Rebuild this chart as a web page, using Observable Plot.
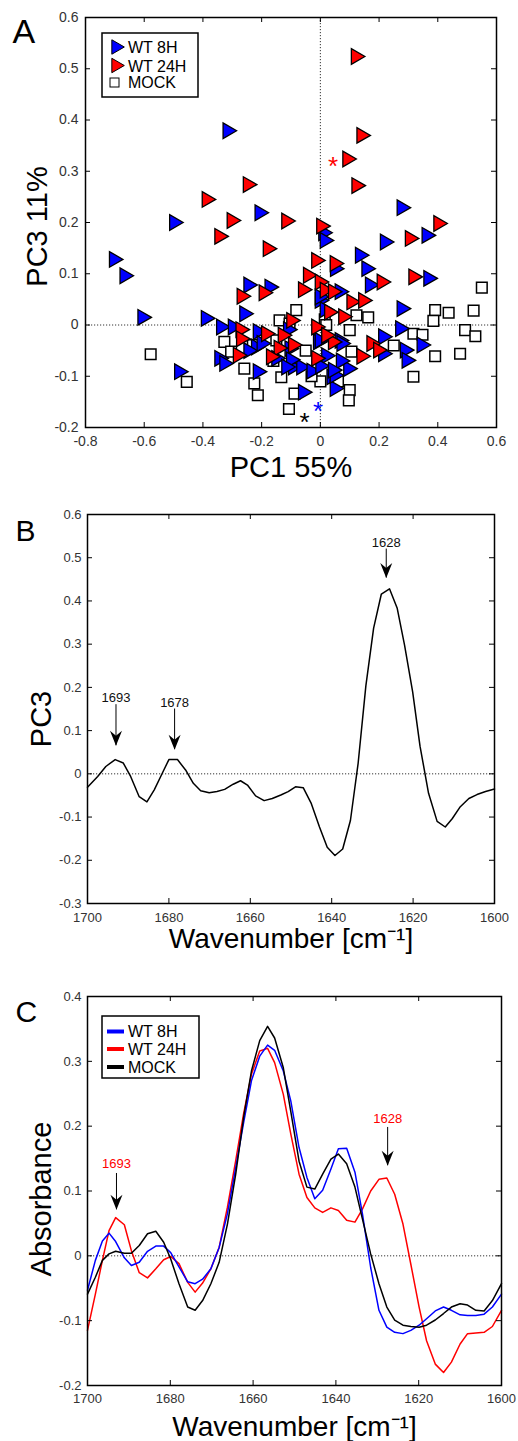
<!DOCTYPE html>
<html><head><meta charset="utf-8">
<script src="https://cdn.jsdelivr.net/npm/d3@7"></script>
<script src="https://cdn.jsdelivr.net/npm/@observablehq/plot@0.6"></script>
<style>
html,body{margin:0;padding:0;background:#fff;}
#root{width:518px;}
#root svg{display:block;}
</style></head><body><div id="root"></div>
<script>
// ---------------- Panel A data (PC1 vs PC3 scores) ----------------
const wt8hX = [-0.316,-0.207,-0.498,0.010,0.015,0.277,-0.703,-0.667,0.050,-0.245,-0.173,-0.002,-0.259,-0.606,-0.390,0.015,-0.338,-0.298,-0.213,-0.110,-0.008,-0.344,-0.327,-0.219,-0.150,-0.093,-0.065,-0.213,-0.481,-0.059,-0.105,0.038,0.049,0.362,0.220,0.135,0.157,0.169,0.368,0.066,-0.002,0.277,0.272,0.214,0.345,0.288,0.294,0.095,0.049,0.066,0.214,-0.002,0.020,0.070,-0.030,0.000,-0.200,-0.245,0.072,-0.100,-0.116,0.043];
const wt8hY = [0.379,0.219,0.200,0.180,0.165,0.229,0.128,0.096,0.110,0.078,0.074,0.048,0.022,0.015,0.013,0.030,-0.004,-0.004,-0.013,-0.009,-0.033,-0.065,-0.075,-0.043,-0.065,-0.082,-0.082,-0.091,-0.091,-0.131,-0.046,-0.101,-0.124,0.175,0.162,0.136,0.110,0.078,0.091,0.065,0.055,0.032,-0.007,-0.023,-0.039,-0.049,-0.069,-0.085,-0.098,-0.030,-0.056,-0.030,-0.060,-0.070,-0.090,-0.080,-0.036,-0.050,-0.036,-0.068,-0.082,-0.088];
const wt24hX = [-0.387,-0.247,-0.302,-0.116,0.003,0.121,0.140,0.092,0.123,0.402,-0.344,-0.179,-0.014,0.049,-0.042,-0.002,-0.268,-0.193,-0.059,0.015,0.043,0.305,0.317,0.209,0.106,0.146,0.078,-0.099,-0.272,-0.270,-0.185,-0.128,-0.014,-0.281,-0.142,-0.093,-0.168,-0.014,0.043,0.174,0.197,0.140,0.020,0.030];
const wt24hY = [0.245,0.274,0.204,0.203,0.193,0.524,0.370,0.324,0.272,0.198,0.173,0.149,0.126,0.120,0.097,0.084,0.056,0.063,0.069,0.068,0.065,0.169,0.094,0.084,0.045,0.048,0.016,0.009,-0.009,-0.027,-0.017,-0.020,-0.004,-0.059,-0.045,-0.039,-0.062,-0.065,-0.033,-0.036,-0.049,-0.061,-0.020,0.025];
const mockX = [-0.578,-0.455,-0.327,-0.230,-0.259,-0.225,-0.213,-0.133,-0.088,-0.107,-0.082,-0.139,0.015,-0.304,0.550,0.391,0.437,0.522,0.123,0.163,0.385,0.493,0.528,0.317,0.348,0.391,0.476,0.317,0.100,0.097,0.100,0.106,0.000,0.060,-0.050,0.020,-0.160,0.250,-0.030,-0.150,-0.105];
const mockY = [-0.057,-0.111,-0.033,-0.039,-0.085,-0.114,-0.137,-0.102,-0.134,-0.164,0.029,0.009,0.011,-0.052,0.073,0.029,0.024,0.028,0.019,0.015,0.008,-0.010,-0.022,-0.017,-0.019,-0.061,-0.056,-0.101,-0.127,-0.147,-0.010,-0.052,-0.110,-0.110,-0.050,0.000,-0.070,-0.040,-0.100,-0.030,0.003];
const starX = [0.043,-0.008,-0.054];
const starY = [0.323,-0.155,-0.176];
const starColor = ["#ff0000","#0000ff","#000000"];
const aXTicks = [-0.8,-0.6,-0.4,-0.2,0,0.2,0.4,0.6];
const aYTicks = [-0.2,-0.1,0,0.1,0.2,0.3,0.4,0.5,0.6];

// ---------------- Panel B data (PC3 loadings) ----------------
const waveB = [1700,1697.5,1695.5,1693.2,1691.2,1689.4,1687.3,1685.4,1683.6,1681.6,1680,1677.9,1675.9,1674,1672.2,1670.1,1668.2,1666.3,1664.2,1662.4,1660.7,1658.7,1656.6,1654.6,1652.5,1650.7,1648.9,1647,1645,1643,1641.1,1639.2,1637.3,1635.4,1633.5,1631.6,1629.7,1627.8,1625.8,1623.9,1622.1,1620.1,1618.3,1616.2,1614.1,1612.1,1610.4,1608.4,1606.3,1604.3,1602.2,1600];
const pc3 = [-0.031,-0.006,0.017,0.033,0.025,-0.006,-0.053,-0.065,-0.037,0.002,0.033,0.033,0.009,-0.022,-0.039,-0.044,-0.041,-0.036,-0.024,-0.016,-0.026,-0.051,-0.062,-0.057,-0.049,-0.041,-0.030,-0.032,-0.069,-0.123,-0.170,-0.189,-0.174,-0.108,0.025,0.204,0.337,0.416,0.428,0.383,0.298,0.189,0.064,-0.045,-0.110,-0.123,-0.104,-0.076,-0.057,-0.048,-0.041,-0.035];
const bLabels = ["1693","1678","1628"];
const bLabelX = [1693,1678.6,1626.6];
const bLabelY = [0.175,0.165,0.535];
const bArrowTop = [0.160,0.150,0.520];
const bArrowTip = [0.065,0.056,0.453];
const bXTicks = [1700,1680,1660,1640,1620,1600];
const bYTicks = [-0.3,-0.2,-0.1,0,0.1,0.2,0.3,0.4,0.5,0.6];

// ---------------- Panel C data (mean spectra) ----------------
const waveC = [1700,1698.1,1696.4,1694.8,1693.2,1691.1,1689.4,1687.5,1685.5,1683.5,1681.6,1679.9,1677.9,1675.8,1674,1672.2,1670.2,1668.2,1666.2,1664.2,1662.3,1660.4,1658.4,1656.5,1654.8,1652.7,1650.9,1648.9,1647,1645.1,1643.2,1641.2,1639.4,1637.4,1635.4,1633.6,1631.6,1629.6,1627.7,1625.8,1623.8,1621.9,1619.9,1618.1,1616,1614,1612.1,1610,1608.2,1606.2,1604.2,1602.2,1600];
const absWT8H = [-0.053,-0.007,0.023,0.035,0.022,-0.003,-0.015,-0.010,0.007,0.015,0.015,0.005,-0.017,-0.040,-0.043,-0.036,-0.020,0.013,0.065,0.136,0.205,0.270,0.308,0.325,0.317,0.285,0.239,0.167,0.121,0.088,0.101,0.134,0.165,0.166,0.129,0.065,-0.018,-0.084,-0.110,-0.118,-0.120,-0.115,-0.107,-0.097,-0.085,-0.079,-0.084,-0.091,-0.092,-0.092,-0.090,-0.079,-0.059];
const absWT24H = [-0.115,-0.059,-0.007,0.039,0.059,0.048,0.008,-0.026,-0.034,-0.020,-0.006,-0.001,-0.012,-0.041,-0.056,-0.042,-0.020,0.013,0.075,0.147,0.219,0.280,0.316,0.320,0.298,0.249,0.188,0.126,0.090,0.074,0.067,0.074,0.070,0.055,0.052,0.072,0.100,0.118,0.120,0.095,0.049,-0.013,-0.079,-0.131,-0.167,-0.180,-0.164,-0.136,-0.120,-0.119,-0.118,-0.109,-0.084];
const absMOCK = [-0.059,-0.033,-0.007,0.003,0.007,0.004,0.004,0.016,0.034,0.038,0.021,-0.005,-0.043,-0.079,-0.084,-0.069,-0.043,-0.010,0.049,0.126,0.213,0.285,0.332,0.354,0.336,0.290,0.223,0.146,0.106,0.103,0.126,0.149,0.157,0.142,0.106,0.057,0.003,-0.043,-0.079,-0.099,-0.107,-0.109,-0.110,-0.107,-0.099,-0.089,-0.079,-0.074,-0.076,-0.084,-0.085,-0.069,-0.043];
const cLabels = ["1693","1628"];
const cLabelX = [1693,1627.5];
const cLabelY = [0.142,0.212];
const cArrowTop = [0.127,0.198];
const cArrowTip = [0.071,0.139];
const cXTicks = [1700,1680,1660,1640,1620,1600];
const cYTicks = [-0.2,-0.1,0,0.1,0.2,0.3,0.4];

const seriesNames = ["WT 8H","WT 24H","MOCK"];
const seriesColors = ["#0000ff","#ff0000","#000000"];

// ---------------- helpers ----------------
const FONT = "'Liberation Sans', Arial, Helvetica, sans-serif";
const W = 518;
const root = document.getElementById("root");
const fmt = d => String(d);

function boxMarks(xt, yt, innerW, innerH, xpad, ypad, fs) {
  const L = 5;
  return [
    Plot.ruleX(xt, {x: d => d, insetTop: innerH - L, stroke: "black", strokeWidth: 1}),
    Plot.ruleX(xt, {x: d => d, insetBottom: innerH - L, stroke: "black", strokeWidth: 1}),
    Plot.ruleY(yt, {y: d => d, insetRight: innerW - L, stroke: "black", strokeWidth: 1}),
    Plot.ruleY(yt, {y: d => d, insetLeft: innerW - L, stroke: "black", strokeWidth: 1}),
    Plot.axisX({ticks: xt, tickSize: 0, tickPadding: xpad, tickFormat: fmt, fontSize: fs, label: null, fill: "#333"}),
    Plot.axisY({ticks: yt, tickSize: 0, tickPadding: ypad, tickFormat: fmt, fontSize: fs, label: null, fill: "#333"}),
    Plot.frame({stroke: "black", strokeWidth: 1.5})
  ];
}

const dart = {
  draw(context) {
    context.moveTo(0, 0);
    context.lineTo(-6, -15);
    context.lineTo(0, -10);
    context.lineTo(6, -15);
    context.closePath();
  }
};

function annotations(labels, lx, ly, top, tip, color) {
  const rows = labels.map((t, i) => ({t, x: lx[i], ly: ly[i], top: top[i], tip: tip[i]}));
  return [
    Plot.ruleX(rows, {x: "x", y1: "top", y2: "tip", stroke: "black", strokeWidth: 1}),
    Plot.dot(rows, {x: "x", y: "tip", symbol: dart, r: 5, fill: "black", stroke: "none"}),
    Plot.text(rows, {x: "x", y: "ly", text: "t", fontSize: 13, fill: color, fontFamily: FONT})
  ];
}

// ---------------- Panel A ----------------
{
  const H = 484, mt = 17, mb = 57, ml = 85, mr = 22;
  const iw = W - ml - mr, ih = H - mt - mb;
  const toRows = (xs, ys) => xs.map((x, i) => ({x, y: ys[i]}));
  const blue = toRows(wt8hX, wt8hY), red = toRows(wt24hX, wt24hY), mock = toRows(mockX, mockY);
  const stars = starX.map((x, i) => ({x, y: starY[i], c: starColor[i]}));
  const svg = Plot.plot({
    width: W, height: H, marginTop: mt, marginBottom: mb, marginLeft: ml, marginRight: mr,
    style: {fontFamily: FONT, background: "white"},
    x: {domain: [-0.8, 0.6]},
    y: {domain: [-0.2, 0.6]},
    marks: [
      Plot.ruleY([0], {stroke: "black", strokeWidth: 0.8, strokeDasharray: "1.2,1.8"}),
      Plot.ruleX([0], {stroke: "black", strokeWidth: 0.8, strokeDasharray: "1.2,1.8"}),
      Plot.dot(mock, {x: "x", y: "y", symbol: "square", r: 6, fill: "white", stroke: "black", strokeWidth: 1.5}),
      Plot.dot(blue, {x: "x", y: "y", symbol: "triangle", rotate: 90, r: 5.8, fill: "#0000ff", stroke: "black", strokeWidth: 1.3}),
      Plot.dot(red, {x: "x", y: "y", symbol: "triangle", rotate: 90, r: 5.8, fill: "#ff0000", stroke: "black", strokeWidth: 1.3}),
      Plot.text(stars, {x: "x", y: "y", text: () => "*", fill: "c", fontSize: 26, dy: 7, fontFamily: FONT}),
      ...boxMarks(aXTicks, aYTicks, iw, ih, 9, 7, 14),
      Plot.text(["A"], {text: d => d, frameAnchor: "top-left", dx: 12 - ml, dy: 42 - mt, textAnchor: "start", lineAnchor: "bottom", fontSize: 34, fill: "black", fontFamily: FONT}),
      Plot.text(["PC1 55%"], {text: d => d, frameAnchor: "bottom", dy: 476 - (H - mb), lineAnchor: "bottom", fontSize: 29, fill: "black", fontFamily: FONT}),
      Plot.text(["PC3 11%"], {text: d => d, frameAnchor: "left", dx: 46 - ml, dy: 4, rotate: -90, textAnchor: "middle", lineAnchor: "bottom", fontSize: 29, fill: "black", fontFamily: FONT})
    ]
  });
  // legend
  const g = d3.select(svg).append("g").attr("font-family", FONT).attr("text-anchor", "start");
  g.append("rect").attr("x", 102).attr("y", 33).attr("width", 96).attr("height", 64)
    .attr("fill", "white").attr("stroke", "black").attr("stroke-width", 1.5);
  const ly = [47, 65.5, 82.5], tb = [53, 71.5, 88];
  [0, 1].forEach(i => {
    g.append("path").attr("d", d3.symbol(d3.symbolTriangle, 90)())
      .attr("transform", `translate(116,${ly[i]}) rotate(90)`)
      .attr("fill", seriesColors[i]).attr("stroke", "black").attr("stroke-width", 1);
  });
  g.append("rect").attr("x", 110).attr("y", ly[2] - 4.5).attr("width", 9).attr("height", 9)
    .attr("fill", "white").attr("stroke", "black").attr("stroke-width", 1);
  seriesNames.forEach((s, i) => {
    g.append("text").attr("x", 128).attr("y", tb[i]).attr("font-size", 16)
      .attr("text-anchor", "start").attr("fill", "black").text(s);
  });
  root.appendChild(svg);
}

// ---------------- Panel B ----------------
{
  const H = 481, mt = 30, mb = 62, ml = 87, mr = 24;
  const top0 = 484;
  const iw = W - ml - mr, ih = H - mt - mb;
  const rows = waveB.map((w, i) => ({w, v: pc3[i]}));
  const svg = Plot.plot({
    width: W, height: H, marginTop: mt, marginBottom: mb, marginLeft: ml, marginRight: mr,
    style: {fontFamily: FONT, background: "white"},
    x: {domain: [1700, 1600]},
    y: {domain: [-0.3, 0.6]},
    marks: [
      Plot.ruleY([0], {stroke: "black", strokeWidth: 0.8, strokeDasharray: "1.2,1.8"}),
      Plot.line(rows, {x: "w", y: "v", stroke: "black", strokeWidth: 1.5}),
      ...annotations(bLabels, bLabelX, bLabelY, bArrowTop, bArrowTip, "#111"),
      ...boxMarks(bXTicks, bYTicks, iw, ih, 9, 6, 13),
      Plot.text(["B"], {text: d => d, frameAnchor: "top-left", dx: 15 - ml, dy: 26, textAnchor: "start", lineAnchor: "bottom", fontSize: 30, fill: "black", fontFamily: FONT}),
      Plot.text(["Wavenumber [cm⁻¹]"], {text: d => d, frameAnchor: "bottom", dy: 947 - top0 - (H - mb), lineAnchor: "bottom", fontSize: 28, fill: "black", fontFamily: FONT}),
      Plot.text(["PC3"], {text: d => d, frameAnchor: "left", dx: 50 - ml, dy: 10, rotate: -90, textAnchor: "middle", lineAnchor: "bottom", fontSize: 29, fill: "black", fontFamily: FONT})
    ]
  });
  root.appendChild(svg);
}

// ---------------- Panel C ----------------
{
  const H = 476, mt = 31, mb = 56, ml = 87, mr = 17;
  const top0 = 965;
  const iw = W - ml - mr, ih = H - mt - mb;
  const series = [absWT8H, absWT24H, absMOCK];
  const rows = [];
  series.forEach((arr, s) => arr.forEach((v, i) => rows.push({w: waveC[i], v, s: seriesNames[s]})));
  const svg = Plot.plot({
    width: W, height: H, marginTop: mt, marginBottom: mb, marginLeft: ml, marginRight: mr,
    style: {fontFamily: FONT, background: "white"},
    x: {domain: [1700, 1600]},
    y: {domain: [-0.2, 0.4]},
    color: {domain: seriesNames, range: seriesColors},
    marks: [
      Plot.ruleY([0], {stroke: "black", strokeWidth: 0.8, strokeDasharray: "1.2,1.8"}),
      Plot.line(rows.filter(d => d.s === "WT 24H"), {x: "w", y: "v", stroke: "s", strokeWidth: 1.5}),
      Plot.line(rows.filter(d => d.s === "WT 8H"), {x: "w", y: "v", stroke: "s", strokeWidth: 1.5}),
      Plot.line(rows.filter(d => d.s === "MOCK"), {x: "w", y: "v", stroke: "s", strokeWidth: 1.5}),
      ...annotations(cLabels, cLabelX, cLabelY, cArrowTop, cArrowTip, "#ff0000"),
      ...boxMarks(cXTicks, cYTicks, iw, ih, 8, 6, 13),
      Plot.text(["C"], {text: d => d, frameAnchor: "top-left", dx: 15 - ml, dy: 25, textAnchor: "start", lineAnchor: "bottom", fontSize: 30, fill: "black", fontFamily: FONT}),
      Plot.text(["Wavenumber [cm⁻¹]"], {text: d => d, frameAnchor: "bottom", dy: 1435 - top0 - (H - mb), lineAnchor: "bottom", fontSize: 28, fill: "black", fontFamily: FONT}),
      Plot.text(["Absorbance"], {text: d => d, frameAnchor: "left", dx: 50 - ml, dy: 8, rotate: -90, textAnchor: "middle", lineAnchor: "bottom", fontSize: 29, fill: "black", fontFamily: FONT})
    ]
  });
  const g = d3.select(svg).append("g").attr("font-family", FONT).attr("text-anchor", "start");
  g.append("rect").attr("x", 102).attr("y", 51).attr("width", 97).attr("height", 62)
    .attr("fill", "white").attr("stroke", "black").attr("stroke-width", 1.5);
  const ly = [66.5, 84, 102], tb = [72, 90, 107.5];
  seriesNames.forEach((s, i) => {
    g.append("line").attr("x1", 107).attr("x2", 124).attr("y1", ly[i]).attr("y2", ly[i])
      .attr("stroke", seriesColors[i]).attr("stroke-width", 4);
    g.append("text").attr("x", 128).attr("y", tb[i]).attr("font-size", 16)
      .attr("text-anchor", "start").attr("fill", "black").text(s);
  });
  root.appendChild(svg);
}
</script></body></html>
